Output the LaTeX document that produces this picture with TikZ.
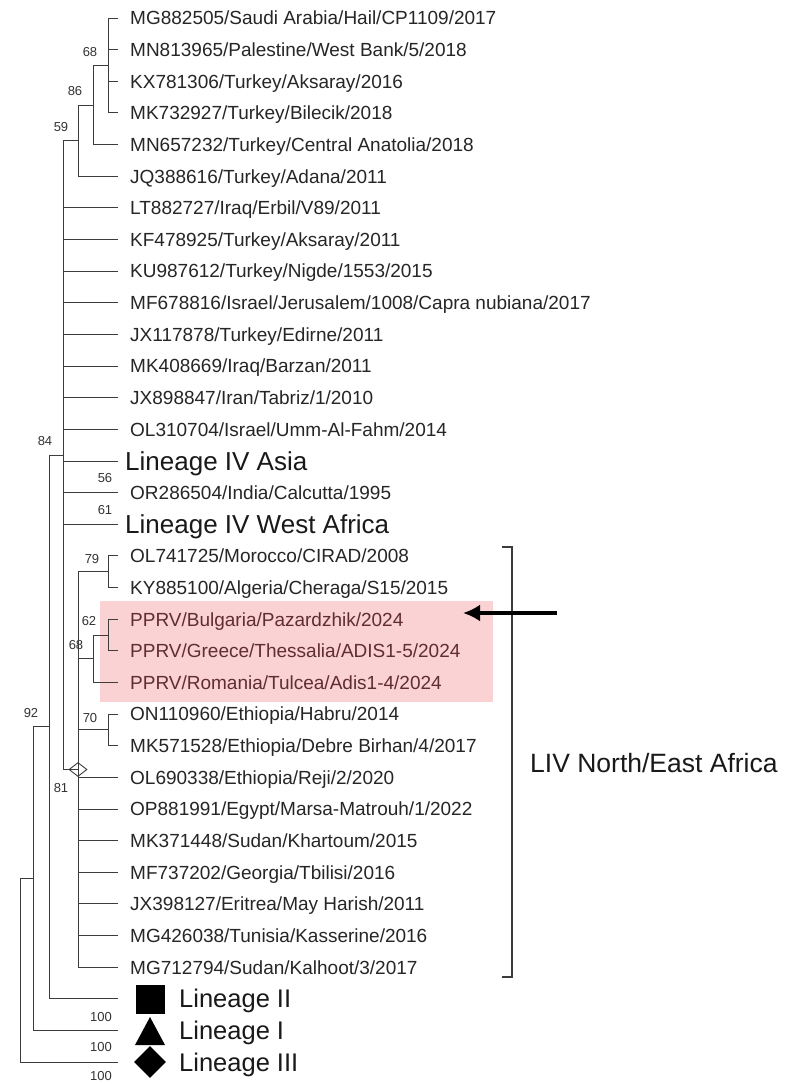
\documentclass[tikz,border=0pt]{standalone}
\usepackage{fontspec}
\setmainfont{Liberation Sans}
\usetikzlibrary{arrows.meta,shapes.geometric}
\definecolor{hl}{RGB}{250,210,212}
\definecolor{hltext}{RGB}{95,45,50}
\definecolor{ln}{RGB}{60,60,60}
\begin{document}
\begin{tikzpicture}[x=1pt,y=-1pt,
  br/.style={draw=ln, line width=1pt},
  leaf/.style={anchor=west, inner xsep=12pt, inner ysep=0pt, font=\fontsize{19}{19}\selectfont, text=black!85, text height=13.6pt, text depth=0pt},
  big/.style={anchor=west, inner xsep=7pt, inner ysep=0pt, font=\fontsize{26}{26}\selectfont, text=black!90, text height=18.6pt, text depth=0pt},
  lin/.style={anchor=west, inner sep=0pt, font=\fontsize{25.5}{26}\selectfont, text=black!90, text height=18.3pt, text depth=0pt},
  pink/.style={leaf, text=hltext},
  bs/.style={font=\fontsize{13}{13}\selectfont, text=black!80, inner sep=0pt},
]
\useasboundingbox (0,0) rectangle (792,1084);
\fill[white] (0,0) rectangle (792,1084);
% highlight
\fill[hl] (100,601) rectangle (493,702);

% leaves
\node[leaf] (l1) at (118,18) {MG882505/Saudi Arabia/Hail/CP1109/2017};
\node[leaf] (l2) at (118,49.6) {MN813965/Palestine/West Bank/5/2018};
\node[leaf] (l3) at (118,81.3) {KX781306/Turkey/Aksaray/2016};
\node[leaf] (l4) at (118,112.9) {MK732927/Turkey/Bilecik/2018};
\node[leaf] (l5) at (118,144.6) {MN657232/Turkey/Central Anatolia/2018};
\node[leaf] (l6) at (118,176.2) {JQ388616/Turkey/Adana/2011};
\node[leaf] (l7) at (118,207.8) {LT882727/Iraq/Erbil/V89/2011};
\node[leaf] (l8) at (118,239.5) {KF478925/Turkey/Aksaray/2011};
\node[leaf] (l9) at (118,271.1) {KU987612/Turkey/Nigde/1553/2015};
\node[leaf] (l10) at (118,302.8) {MF678816/Israel/Jerusalem/1008/Capra nubiana/2017};
\node[leaf] (l11) at (118,334.4) {JX117878/Turkey/Edirne/2011};
\node[leaf] (l12) at (118,366.0) {MK408669/Iraq/Barzan/2011};
\node[leaf] (l13) at (118,397.7) {JX898847/Iran/Tabriz/1/2010};
\node[leaf] (l14) at (118,429.3) {OL310704/Israel/Umm-Al-Fahm/2014};
\node[big] (l15) at (118,461.0) {Lineage IV Asia};
\node[leaf] (l16) at (118,492.6) {OR286504/India/Calcutta/1995};
\node[big] (l17) at (118,524.2) {Lineage IV West Africa};
\node[leaf] (l18) at (118,555.9) {OL741725/Morocco/CIRAD/2008};
\node[leaf] (l19) at (118,587.5) {KY885100/Algeria/Cheraga/S15/2015};
\node[pink] (l20) at (118,619.2) {PPRV/Bulgaria/Pazardzhik/2024};
\node[pink] (l21) at (118,650.8) {PPRV/Greece/Thessalia/ADIS1-5/2024};
\node[pink] (l22) at (118,682.4) {PPRV/Romania/Tulcea/Adis1-4/2024};
\node[leaf] (l23) at (118,714.1) {ON110960/Ethiopia/Habru/2014};
\node[leaf] (l24) at (118,745.7) {MK571528/Ethiopia/Debre Birhan/4/2017};
\node[leaf] (l25) at (118,777.4) {OL690338/Ethiopia/Reji/2/2020};
\node[leaf] (l26) at (118,809.0) {OP881991/Egypt/Marsa-Matrouh/1/2022};
\node[leaf] (l27) at (118,840.6) {MK371448/Sudan/Khartoum/2015};
\node[leaf] (l28) at (118,872.3) {MF737202/Georgia/Tbilisi/2016};
\node[leaf] (l29) at (118,903.9) {JX398127/Eritrea/May Harish/2011};
\node[leaf] (l30) at (118,935.6) {MG426038/Tunisia/Kasserine/2016};
\node[leaf] (l31) at (118,967.2) {MG712794/Sudan/Kalhoot/3/2017};
% outgroup lineages
\coordinate (l32) at (118,998.8);
\coordinate (l33) at (118,1030.5);
\coordinate (l34) at (118,1062.1);
\node[lin] (t32) at (179,998.8) {Lineage II};
\node[lin] (t33) at (179,1030.5) {Lineage I};
\node[lin] (t34) at (179,1062.1) {Lineage III};
\node[fill=black, minimum size=29pt, inner sep=0pt] (s32) at (150,999) {};
\fill[black] (135,1045) -- (165,1045) -- (150,1017) -- cycle;
\node[diamond, fill=black, minimum width=32pt, minimum height=32pt, inner sep=0pt] (s34) at (150,1062) {};

% internal nodes
\coordinate (A) at (108,65.5);
\coordinate (B) at (93,105);
\coordinate (C) at (78,140.6);
\coordinate (F) at (108,571.7);
\coordinate (H) at (108,635);
\coordinate (G) at (93,658.7);
\coordinate (I) at (108,729.9);
\coordinate (E) at (78,769.5);
\coordinate (D) at (63,455);
\coordinate (J) at (49,726.9);
\coordinate (K) at (33,878.7);
\coordinate (R) at (20,970.4);

% branches
\foreach \c in {l1,l2,l3,l4} \draw[br] (A) |- (\c.west);
\draw[br] (B) |- (A); \draw[br] (B) |- (l5.west);
\draw[br] (C) |- (B); \draw[br] (C) |- (l6.west);
\draw[br] (D) |- (C);
\foreach \c in {l7,l8,l9,l10,l11,l12,l13,l14,l15,l16,l17} \draw[br] (D) |- (\c.west);
\draw[br] (D) |- (E);
\draw[br] (F) |- (l18.west); \draw[br] (F) |- (l19.west);
\draw[br] (H) |- (l20.west); \draw[br] (H) |- (l21.west);
\draw[br] (G) |- (H); \draw[br] (G) |- (l22.west);
\draw[br] (I) |- (l23.west); \draw[br] (I) |- (l24.west);
\draw[br] (E) |- (F); \draw[br] (E) |- (G); \draw[br] (E) |- (I);
\foreach \c in {l25,l26,l27,l28,l29,l30,l31} \draw[br] (E) |- (\c.west);
\draw[br] (J) |- (D); \draw[br] (J) |- (l32);
\draw[br] (K) |- (J); \draw[br] (K) |- (l33);
\draw[br] (R) |- (K); \draw[br] (R) |- (l34);
% node marker
\node[diamond, draw=ln, line width=0.9pt, fill=none, minimum width=18pt, minimum height=14pt, inner sep=0pt] (Em) at (E) {};

% bootstrap values
\node[bs] (b1) at (90,52) {68};
\node[bs] (b2) at (75,91) {86};
\node[bs] (b3) at (61,127) {59};
\node[bs] (b4) at (45,441) {84};
\node[bs] (b5) at (105,478) {56};
\node[bs] (b6) at (105,510) {61};
\node[bs] (b7) at (92,559) {79};
\node[bs] (b8) at (89,621) {62};
\node[bs] (b9) at (76,645) {68};
\node[bs] (b10) at (90,718) {70};
\node[bs] (b11) at (61,788) {81};
\node[bs] (b12) at (31,713) {92};
\node[bs] (b13) at (101,1017) {100};
\node[bs] (b14) at (101,1047) {100};
\node[bs] (b15) at (101,1076.5) {100};

% bracket and label
\coordinate (bt) at (502,547);
\coordinate (bb) at (502,977);
\draw[ln, line width=1.2pt] (bt) -- ++(10,0) |- (bb);
\node[anchor=west, inner sep=0pt, font=\fontsize{26.5}{27}\selectfont, text=black!90] (liv) at (530,763) {LIV North/East Africa};

% arrow
\coordinate (as) at (557,613);
\coordinate (ae) at (463,613);
\draw[line width=4.5pt, -{Latex[length=17pt,width=17pt]}] (as) -- (ae);
\end{tikzpicture}
\end{document}
